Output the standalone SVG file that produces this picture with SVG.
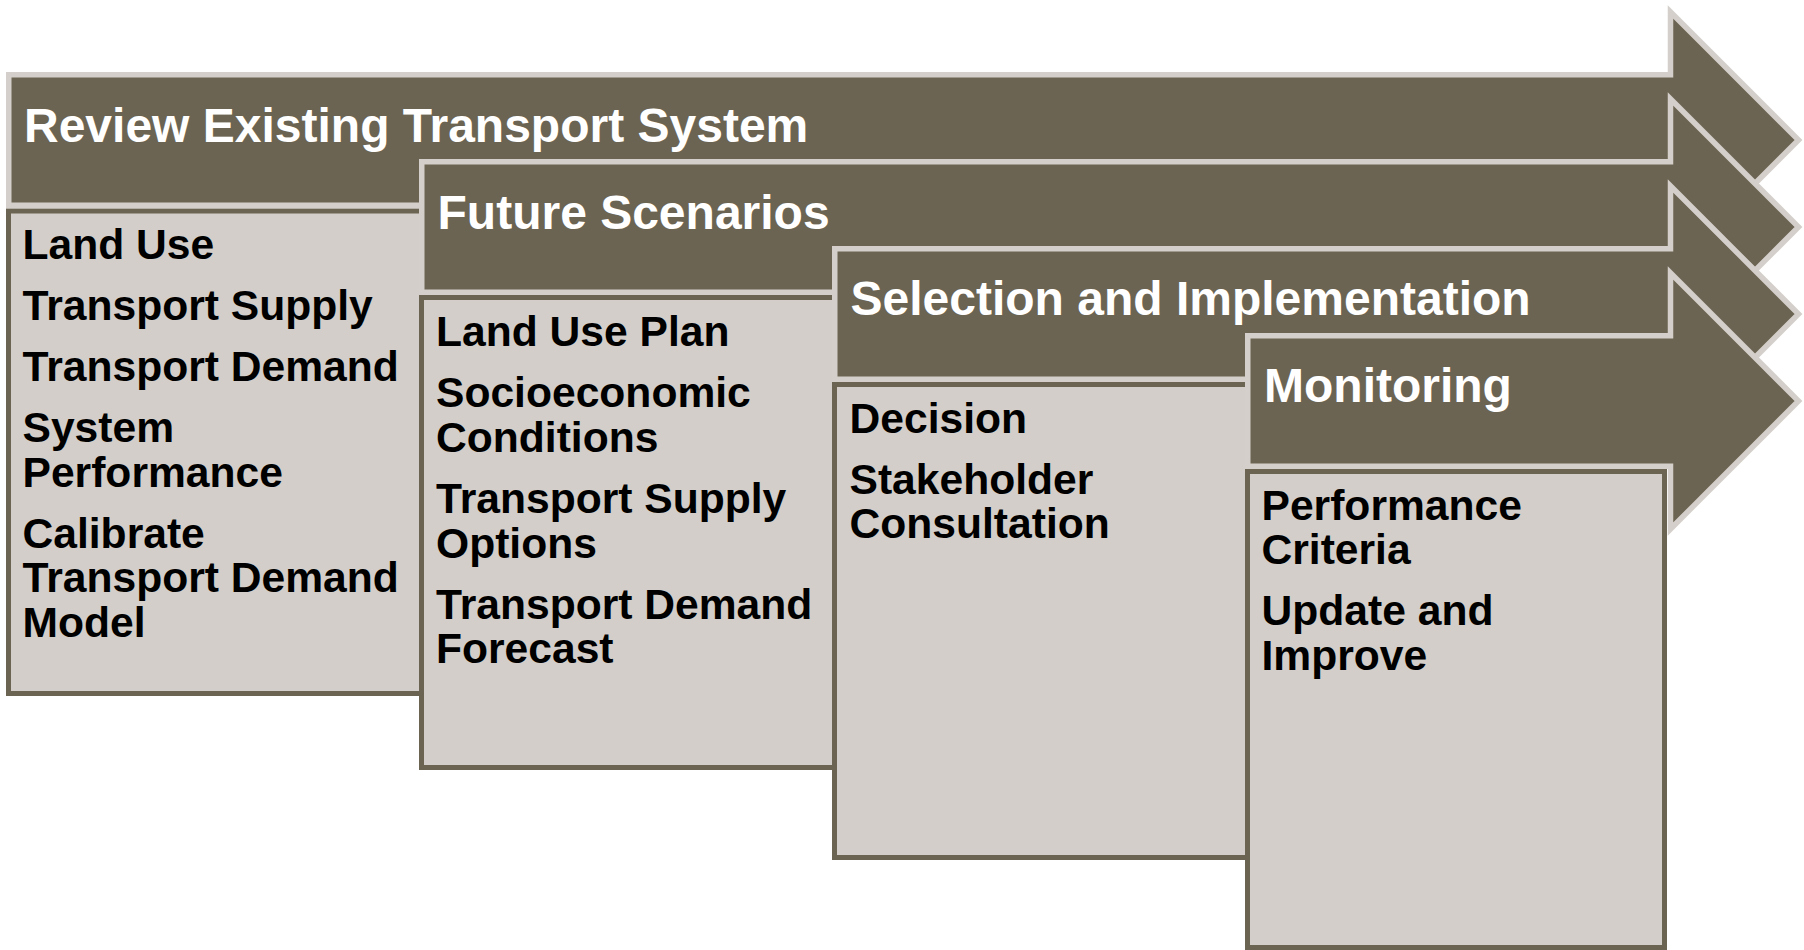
<svg xmlns="http://www.w3.org/2000/svg" width="1804" height="950" viewBox="0 0 1804 950">
  <style>
    .arrow { fill: #6c6452; stroke: #d4cfca; stroke-width: 5.5; stroke-linejoin: miter; }
    .panel { fill: #d3cec9; stroke: #6c6452; stroke-width: 5; }
    .title { font-family: "Liberation Sans", Arial, sans-serif; font-weight: bold; font-size: 48px; fill: #ffffff; }
    .item { font-family: "Liberation Sans", Arial, sans-serif; font-weight: bold; font-size: 42.6px; fill: #000000; }
  </style>
  <rect width="1804" height="950" fill="#ffffff"/>

  <!-- Stage 1 -->
  <g id="stage-review">
    <path class="arrow" d="M8.75,74.75 H1670.5 V12 L1798.5,140 L1670.5,268 V205.25 H8.75 Z"/>
    <text class="title" x="24" y="142">Review Existing Transport System</text>
    <rect class="panel" x="8.5" y="211" width="417" height="482.5"/>
    <text class="item" x="22.5" y="259">Land Use</text>
    <text class="item" x="22.5" y="320">Transport Supply</text>
    <text class="item" x="22.5" y="381">Transport Demand</text>
    <text class="item" x="22.5" y="442">System</text>
    <text class="item" x="22.5" y="486.5">Performance</text>
    <text class="item" x="22.5" y="547.5">Calibrate</text>
    <text class="item" x="22.5" y="592">Transport Demand</text>
    <text class="item" x="22.5" y="636.5">Model</text>
  </g>

  <!-- Stage 2 -->
  <g id="stage-future">
    <path class="arrow" d="M421.75,161.75 H1670.5 V99 L1798.5,227 L1670.5,355 V292.25 H421.75 Z"/>
    <text class="title" x="437.5" y="228.5">Future Scenarios</text>
    <rect class="panel" x="421.5" y="297.5" width="417" height="470"/>
    <text class="item" x="436" y="346">Land Use Plan</text>
    <text class="item" x="436" y="407">Socioeconomic</text>
    <text class="item" x="436" y="451.5">Conditions</text>
    <text class="item" x="436" y="513">Transport Supply</text>
    <text class="item" x="436" y="557.5">Options</text>
    <text class="item" x="436" y="618.5">Transport Demand</text>
    <text class="item" x="436" y="663">Forecast</text>
  </g>

  <!-- Stage 3 -->
  <g id="stage-selection">
    <path class="arrow" d="M834.75,248.75 H1670.5 V186 L1798.5,314 L1670.5,442 V379.25 H834.75 Z"/>
    <text class="title" x="850.5" y="315">Selection and Implementation</text>
    <rect class="panel" x="834.5" y="384.5" width="417" height="473"/>
    <text class="item" x="849.5" y="432.5">Decision</text>
    <text class="item" x="849.5" y="493.5">Stakeholder</text>
    <text class="item" x="849.5" y="538">Consultation</text>
  </g>

  <!-- Stage 4 -->
  <g id="stage-monitoring">
    <path class="arrow" d="M1247.75,335.75 H1670.5 V273 L1798.5,401 L1670.5,529 V466.25 H1247.75 Z"/>
    <text class="title" x="1264" y="401.5">Monitoring</text>
    <rect class="panel" x="1247.5" y="471.5" width="417" height="476"/>
    <text class="item" x="1261.5" y="519.5">Performance</text>
    <text class="item" x="1261.5" y="564">Criteria</text>
    <text class="item" x="1261.5" y="625">Update and</text>
    <text class="item" x="1261.5" y="669.5">Improve</text>
  </g>

  <!-- the stages are chained by their overlapping arrows; no separate connectors -->
  <g id="connectors"/>
</svg>
